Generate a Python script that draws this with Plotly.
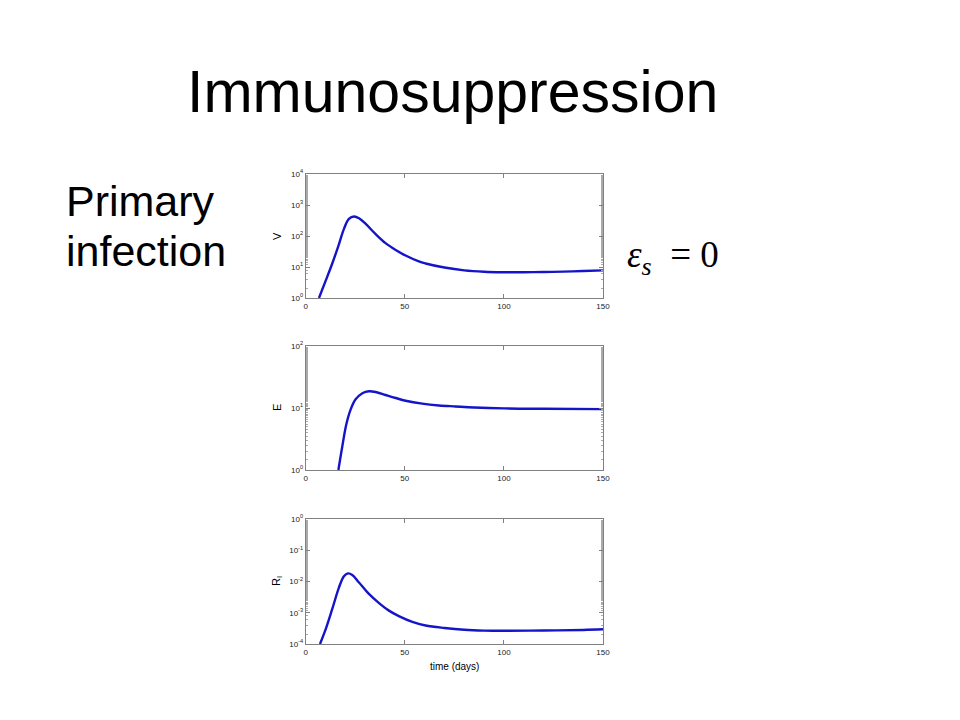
import plotly.graph_objects as go

# time (days) and values
t_v = [6.7, 10, 13.4, 16.8, 19.3, 21.8, 24.4, 26.9, 30.3, 35.3, 40.3, 45.4, 50.4, 57.1, 60.5, 70, 80, 90, 100, 110, 120, 130, 140, 150]
v_vals = [1.0, 3.5, 13, 55, 170, 355, 427, 372, 245, 115, 59, 35.5, 23.4, 15.1, 13.0, 9.6, 7.8, 7.05, 6.8, 6.78, 6.9, 7.1, 7.4, 7.8]

t_e = [16.5, 18.5, 20.5, 22.7, 25.2, 28.6, 31.9, 35.3, 40.3, 45.4, 50.4, 58.8, 67.2, 75.6, 85, 100, 120, 150]
e_vals = [1.0, 2.44, 5.46, 9.5, 13.8, 17.3, 18.6, 18.1, 16.2, 14.5, 13.1, 11.75, 11.0, 10.6, 10.2, 9.85, 9.7, 9.6]

t_r = [7.2, 10.1, 13.4, 16.8, 19.3, 21.3, 23.5, 26.9, 31.9, 37, 42, 47, 53.8, 60.5, 70, 80, 90, 100, 120, 140, 150]
r_vals = [1.0e-4, 3.0e-4, 1.32e-3, 6.5e-3, 1.48e-2, 1.82e-2, 1.62e-2, 9.3e-3, 4.0e-3, 2.04e-3, 1.17e-3, 7.8e-4, 5.1e-4, 3.9e-4, 3.25e-4, 2.85e-4, 2.68e-4, 2.64e-4, 2.7e-4, 2.82e-4, 2.95e-4]

x_ticks = [0, 50, 100, 150]
v_ticks = [1, 10, 100, 1000, 10000]
v_ticktext = ["10<sup>0</sup>", "10<sup>1</sup>", "10<sup>2</sup>", "10<sup>3</sup>", "10<sup>4</sup>"]
e_ticks = [1, 10, 100]
e_ticktext = ["10<sup>0</sup>", "10<sup>1</sup>", "10<sup>2</sup>"]
r_ticks = [1e-4, 1e-3, 1e-2, 1e-1, 1]
r_ticktext = ["10<sup>-4</sup>", "10<sup>-3</sup>", "10<sup>-2</sup>", "10<sup>-1</sup>", "10<sup>0</sup>"]

OFF = 8  # page body margin offset

def px_x(x):
    return (x - OFF) / 960

def px_y(y):
    return 1 - (y - OFF) / 720

fig = go.Figure()
line = dict(color="#1414c8", width=2.4)
fig.add_trace(go.Scatter(x=t_v, y=v_vals, mode="lines", line_shape="spline", line=line, xaxis="x", yaxis="y"))
fig.add_trace(go.Scatter(x=t_e, y=e_vals, mode="lines", line_shape="spline", line=line, xaxis="x2", yaxis="y2"))
fig.add_trace(go.Scatter(x=t_r, y=r_vals, mode="lines", line_shape="spline", line=line, xaxis="x3", yaxis="y3"))

xd = [px_x(305.7), px_x(603)]
doms = [(174, 298), (346, 470), (519, 644)]
tickfont = dict(family="Liberation Sans, Arial", size=8, color="#222")

def xax(anchor):
    return dict(domain=xd, range=[0, 150], tickvals=x_ticks, ticks="inside", ticklen=4,
                mirror="ticks", showline=True, linecolor="#808080", linewidth=1,
                tickcolor="#808080", showgrid=False, zeroline=False, tickfont=tickfont,
                anchor=anchor, automargin=False)

def yax(anchor, dom, rng, tv, tt):
    return dict(domain=[px_y(dom[1]), px_y(dom[0])], type="log", range=rng,
                tickvals=tv, ticktext=tt, ticks="inside", ticklen=4, mirror="ticks",
                showline=True, linecolor="#808080", linewidth=1, tickcolor="#808080",
                showgrid=False, zeroline=False, tickfont=tickfont, anchor=anchor,
                minor=dict(ticks="inside", ticklen=2, tickcolor="#aaa", showgrid=False),
                automargin=False)

fig.update_layout(
    width=960, height=720, showlegend=False,
    paper_bgcolor="white", plot_bgcolor="white",
    margin=dict(l=0, r=0, t=0, b=0),
    xaxis=xax("y"), xaxis2=xax("y2"), xaxis3=xax("y3"),
    yaxis=yax("x", doms[0], [0, 4], v_ticks, v_ticktext),
    yaxis2=yax("x2", doms[1], [0, 2], e_ticks, e_ticktext),
    yaxis3=yax("x3", doms[2], [-4, 0], r_ticks, r_ticktext),
)

def ann(text, x, y, size, family="Liberation Sans, Arial", xanchor="center", angle=0):
    fig.add_annotation(text=text, x=px_x(x), y=px_y(y), xref="paper", yref="paper",
                       xanchor=xanchor, yanchor="middle", showarrow=False, textangle=angle,
                       font=dict(family=family, size=size, color="black"))

ann("Immunosuppression", 452, 92, 59)
ann("Primary", 64, 201, 43, xanchor="left")
ann("infection", 64, 251, 43, xanchor="left")
ann("<i>ε</i><sub><i>s</i></sub>&nbsp; = 0", 625, 257, 37, family="Liberation Serif, Times New Roman", xanchor="left")
ann("V", 277, 236, 11, angle=-90)
ann("E", 277, 408, 11, angle=-90)
ann("R<sub>I</sub>", 277, 581, 11, angle=-90)
ann("time (days)", 454, 666, 10)

fig.write_html("out.html")
